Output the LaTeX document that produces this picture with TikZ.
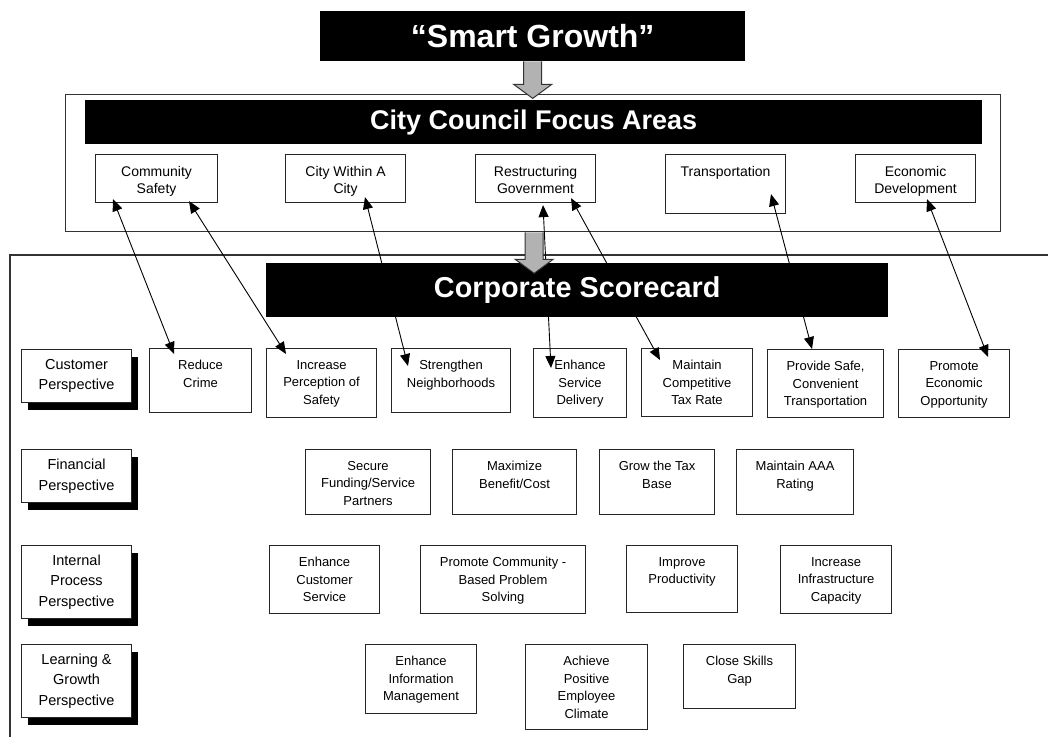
\documentclass[tikz,border=0pt]{standalone}
\usepackage{fontspec}
\setmainfont{Liberation Sans}
\usetikzlibrary{arrows.meta,calc,shadows}
\tikzset{
  objbox/.style={draw=black!85, line width=1.1pt, fill=white, inner sep=0pt, anchor=north west},
  objtext/.style={font=\fontsize{13}{17.5}\selectfont, align=center, inner sep=0pt, anchor=north},
  focustext/.style={font=\fontsize{14}{17}\selectfont, align=center, inner sep=0pt, anchor=north},
  perspbox/.style={draw=black!85, line width=1.1pt, fill=white, inner sep=0pt, anchor=north west,
    align=center, font=\fontsize{14.5}{20.5}\selectfont,
    general shadow={fill=black, shadow xshift=6pt, shadow yshift=-7pt}},
  bar/.style={fill=black, inner sep=0pt, anchor=north west, text=white},
  outerline/.style={draw=black!80, line width=1.3pt},
  link/.style={line width=0.9pt, {Triangle[length=12pt,width=10pt]}-{Triangle[length=12pt,width=10pt]}},
  garrow/.style={fill=black!30, draw=black!80, line width=1pt, line join=miter}
}
\newcommand\objective[7]{%
  \node[objbox, minimum width={#4-#2}, minimum height={#5-#3}] (#1) at (#2,#3) {};
  \node[#7] (#1-t) at ($(#1.north)+(0,12)$) {#6};
}
\newcommand\perspective[6]{%
  \node[perspbox, minimum width={#4-#2}, minimum height={#5-#3}] (#1) at (#2,#3) {#6};
}
\begin{document}
\begin{tikzpicture}[x=1pt,y=-1pt]
\useasboundingbox (0,0) rectangle (1048,737);

% outer frames
\node[draw=black!80, line width=1.3pt, fill=white, inner sep=0pt, anchor=north west,
      minimum width=935, minimum height=137] (ob1) at (65,94) {};
\draw[outerline] (1048,255) -- (10,255) -- (10,737);

% focus areas
\objective{cs}{95}{154}{217}{202}{Community\\Safety}{focustext}
\objective{cwc}{285}{154}{405}{202}{City Within A\\City}{focustext}
\objective{rg}{475}{154}{595}{202}{Restructuring\\Government}{focustext}
\objective{tr}{665}{154}{785}{213}{Transportation}{focustext}
\objective{ed}{855}{154}{975}{202}{Economic\\Development}{focustext}

% perspectives
\perspective{pcu}{21}{349}{131}{402}{Customer\\Perspective}
\perspective{pfi}{21}{449}{131}{502}{Financial\\Perspective}
\perspective{pin}{21}{545}{131}{618}{Internal\\Process\\Perspective}
\perspective{ple}{21}{644}{131}{717}{Learning \&\\Growth\\Perspective}

% customer row
\objective{rc}{149}{348}{251}{412}{Reduce\\Crime}{objtext}
\objective{ips}{266}{348}{376}{417}{Increase\\Perception of\\Safety}{objtext}
\objective{sn}{391}{348}{510}{412}{Strengthen\\Neighborhoods}{objtext}
\objective{esd}{533}{348}{626}{417}{Enhance\\Service\\Delivery}{objtext}
\objective{mct}{641}{348}{752}{416}{Maintain\\Competitive\\Tax Rate}{objtext}
\objective{pst}{767}{349}{883}{417}{Provide Safe,\\Convenient\\Transportation}{objtext}
\objective{peo}{898}{349}{1009}{417}{Promote\\Economic\\Opportunity}{objtext}

% financial row
\objective{sfp}{305}{449}{430}{514}{Secure\\Funding/Service\\Partners}{objtext}
\objective{mbc}{452}{449}{576}{514}{Maximize\\Benefit/Cost}{objtext}
\objective{gtb}{599}{449}{714}{514}{Grow the Tax\\Base}{objtext}
\objective{maaa}{736}{449}{853}{514}{Maintain AAA\\Rating}{objtext}

% internal row
\objective{ecs}{269}{545}{379}{613}{Enhance\\Customer\\Service}{objtext}
\objective{pcb}{420}{545}{585}{613}{Promote Community -\\Based Problem\\Solving}{objtext}
\objective{ipr}{626}{545}{737}{612}{Improve\\Productivity}{objtext}
\objective{iic}{780}{545}{891}{613}{Increase\\Infrastructure\\Capacity}{objtext}

% learning row
\objective{eim}{365}{644}{476}{713}{Enhance\\Information\\Management}{objtext}
\objective{apec}{525}{644}{647}{729}{Achieve\\Positive\\Employee\\Climate}{objtext}
\objective{csg}{683}{644}{795}{708}{Close Skills\\Gap}{objtext}

% links
\draw[link] ($(cs.south west)+(18,-4)$) -- ($(rc.north west)+(25,6)$);
\draw[link] ($(cs.south west)+(94,-2)$) -- ($(ips.north west)+(20,6)$);
\draw[link] ($(cwc.south west)+(80,-6)$) -- ($(sn.north west)+(17,18)$);
\draw[link] ($(rg.south west)+(68,2)$) -- ($(esd.north west)+(18,20)$);
\draw[link] ($(rg.south west)+(96,-5)$) -- ($(mct.north west)+(19,12)$);
\draw[link] ($(tr.south west)+(106,-20)$) -- ($(pst.north west)+(45,0)$);
\draw[link] ($(ed.south west)+(72,-4)$) -- ($(peo.north west)+(90,8)$);

% black bars
\node[bar, minimum width=425, minimum height=50, font=\fontsize{32}{36}\selectfont\bfseries] (sg) at (320,11) {“Smart Growth”};
\node[bar, minimum width=897, minimum height=44, font=\fontsize{27}{30}\selectfont\bfseries] (ccfa) at (85,100) {City Council Focus Areas};
\node[bar, minimum width=622, minimum height=54, font=\fontsize{28.8}{32}\selectfont\bfseries] (corp) at (266,263) {Corporate Scorecard};

% grey arrows
\draw[garrow] ($(sg.south)+(-9,0)$) -- ($(sg.south)+(-9,23)$) -- ($(sg.south)+(-19,23)$)
  -- ($(sg.south)+(0,37)$) -- ($(sg.south)+(19,23)$) -- ($(sg.south)+(9,23)$) -- ($(sg.south)+(9,0)$);
\draw[garrow] ($(ob1.south)+(-8,0)$) -- ($(ob1.south)+(-8,27)$) -- ($(ob1.south)+(-18,27)$)
  -- ($(ob1.south)+(1,41)$) -- ($(ob1.south)+(20,27)$) -- ($(ob1.south)+(10,27)$) -- ($(ob1.south)+(10,0)$);
\end{tikzpicture}
\end{document}
